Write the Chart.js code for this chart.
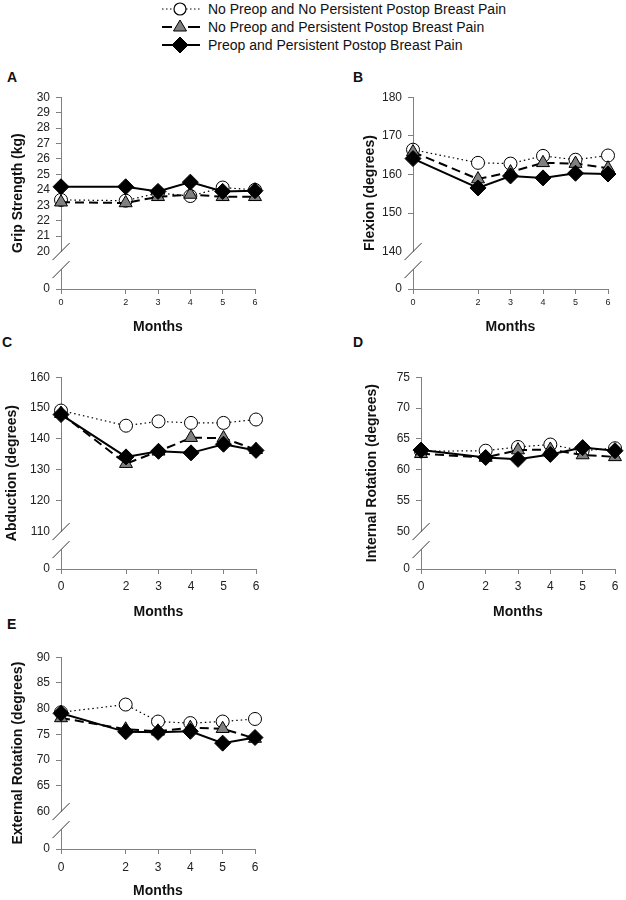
<!DOCTYPE html>
<html><head><meta charset="utf-8">
<script src="https://cdn.jsdelivr.net/npm/chart.js@4.4.0/dist/chart.umd.min.js"></script>
<style>
html,body{margin:0;padding:0;background:#fff;width:626px;height:900px;overflow:hidden;position:relative;font-family:'Liberation Sans',Arial,sans-serif;}
canvas{position:absolute;}
.letter{position:absolute;font-weight:bold;font-size:14px;line-height:14px;color:#111;}
.leg{position:absolute;left:160px;width:400px;height:18px;font-size:14px;line-height:18px;color:#111;white-space:nowrap;}
.leg svg{position:absolute;left:0;top:0;}
.leg span{position:absolute;left:48px;top:0;}
</style></head><body>

<div class="leg" style="top:0px"><svg width="44" height="18"><line x1="2" y1="9" x2="40" y2="9" stroke="#000" stroke-width="1.2" stroke-dasharray="1.5 2.5"/><circle cx="20" cy="9" r="6" fill="#fff" stroke="#000" stroke-width="1.2"/></svg><span>No Preop and No Persistent Postop Breast Pain</span></div>
<div class="leg" style="top:18px"><svg width="44" height="18"><line x1="2" y1="9" x2="12" y2="9" stroke="#000" stroke-width="2"/><line x1="28" y1="9" x2="40" y2="9" stroke="#000" stroke-width="2"/><polygon points="20,2 26.5,13 13.5,13" fill="#808080" stroke="#000" stroke-width="1"/></svg><span>No Preop and Persistent Postop Breast Pain</span></div>
<div class="leg" style="top:36px"><svg width="44" height="18"><line x1="2" y1="9" x2="40" y2="9" stroke="#000" stroke-width="2"/><polygon points="20,1 28,9 20,17 12,9" fill="#000" stroke="#000" stroke-width="1"/></svg><span>Preop and Persistent Postop Breast Pain</span></div>

<div class="letter" style="left:7px;top:70px">A</div>
<div class="letter" style="left:353px;top:70px">B</div>
<div class="letter" style="left:2px;top:335px">C</div>
<div class="letter" style="left:353px;top:335px">D</div>
<div class="letter" style="left:7px;top:617px">E</div>

<canvas id="cA"></canvas>
<canvas id="cB"></canvas>
<canvas id="cC"></canvas>
<canvas id="cD"></canvas>
<canvas id="cE"></canvas>

<script>
// ---- data ----
const months = [0, 2, 3, 4, 5, 6];
const seriesNames = [
  'No Preop and No Persistent Postop Breast Pain',
  'No Preop and Persistent Postop Breast Pain',
  'Preop and Persistent Postop Breast Pain'
];
const panelTitles = ['Grip Strength (kg)', 'Flexion (degrees)', 'Abduction (degrees)', 'Internal Rotation (degrees)', 'External Rotation (degrees)'];
const yLows  = [20, 140, 110, 50, 60];
const yHighs = [30, 180, 160, 75, 90];
const ySteps = [1, 10, 10, 5, 5];

const gripNone      = [23.35, 23.3, 23.8, 23.6, 24.15, 24.0];
const gripNoPreop   = [23.2, 23.15, 23.55, 23.7, 23.55, 23.55];
const gripPreop     = [24.2, 24.2, 23.9, 24.5, 23.9, 23.95];

const flexNone      = [166.4, 163.0, 162.8, 164.8, 163.8, 164.9];
const flexNoPreop   = [165.8, 158.8, 160.6, 163.0, 162.8, 161.6];
const flexPreop     = [164.1, 156.5, 159.6, 159.1, 160.3, 160.1];

const abdNone       = [149.2, 144.3, 145.7, 145.2, 145.2, 146.3];
const abdNoPreop    = [148.2, 132.0, 136.0, 140.4, 140.3, 136.5];
const abdPreop      = [147.9, 134.2, 136.0, 135.5, 138.3, 136.3];

const irNone        = [63.0, 63.1, 63.7, 64.1, 63.1, 63.5];
const irNoPreop     = [62.6, 62.0, 63.2, 63.3, 62.4, 62.1];
const irPreop       = [63.2, 62.0, 61.7, 62.5, 63.6, 63.1];

const erNone        = [79.3, 80.8, 77.5, 77.2, 77.5, 78.0];
const erNoPreop     = [78.2, 76.0, 75.6, 76.3, 76.1, 74.2];
const erPreop       = [79.1, 75.5, 75.4, 75.6, 73.3, 74.4];

const panelData = [
  [gripNone, gripNoPreop, gripPreop],
  [flexNone, flexNoPreop, flexPreop],
  [abdNone, abdNoPreop, abdPreop],
  [irNone, irNoPreop, irPreop],
  [erNone, erNoPreop, erPreop]
];

// ---- layout / style ----
const layouts = [
  {id:'cA', left:10,  top:84,  w:257, h:252, yWidth:51, xHeight:47, padR:12, xFont:9,  xPad:3},
  {id:'cB', left:362, top:84,  w:258, h:252, yWidth:51, xHeight:47, padR:12, xFont:9,  xPad:3},
  {id:'cC', left:4,   top:364, w:264, h:257, yWidth:57, xHeight:52, padR:12, xFont:12, xPad:5},
  {id:'cD', left:364, top:364, w:261, h:257, yWidth:57, xHeight:52, padR:10, xFont:12, xPad:5},
  {id:'cE', left:10,  top:644, w:257, h:256, yWidth:51, xHeight:51, padR:12, xFont:12, xPad:6}
];
const breakFrac = 38 / 157;
const breakGap = 18;
const axisGray = '#808080';
Chart.defaults.font.family = "'Liberation Sans', Arial, sans-serif";

const seriesStyles = [
  {borderWidth:1.2, borderDash:[1.5,3], pointStyle:'circle', pointRadius:6.5, pointBackgroundColor:'#fff', order:3},
  {borderWidth:2, borderDash:[9,5], pointStyle:'triangle', pointRadius:7.5, pointBackgroundColor:'#808080', order:2},
  {borderWidth:2, borderDash:[], pointStyle:'rectRot', pointRadius:8, pointBackgroundColor:'#000', order:1}
];

const breakPlugin = {
  id: 'axisBreak',
  afterDraw(chart, args, opts) {
    const y = chart.scales.y, ctx = chart.ctx;
    const x = chart.chartArea.left;
    const p1 = y.getPixelForValue(opts.low);
    const p2 = p1 + opts.gap;
    ctx.save();
    ctx.fillStyle = '#fff';
    ctx.fillRect(x - 2, p1, 4, opts.gap);
    ctx.strokeStyle = '#333';
    ctx.lineWidth = 1;
    [p1, p2].forEach(py => {
      ctx.beginPath();
      ctx.moveTo(x - 8.5, py + 8.5);
      ctx.lineTo(x + 8.5, py - 8.5);
      ctx.stroke();
    });
    ctx.restore();
  }
};

layouts.forEach((L, pi) => {
  const cv = document.getElementById(L.id);
  cv.width = L.w; cv.height = L.h;
  cv.style.left = L.left + 'px'; cv.style.top = L.top + 'px';
  cv.style.width = L.w + 'px'; cv.style.height = L.h + 'px';
  const low = yLows[pi], high = yHighs[pi], step = ySteps[pi];
  const datasets = panelData[pi].map((vals, si) => Object.assign({
    label: seriesNames[si],
    data: months.map((m, i) => ({x: m, y: vals[i]})),
    borderColor: '#000',
    pointBorderColor: '#000',
    pointBorderWidth: 1,
    pointHoverRadius: 8,
    tension: 0,
    fill: false,
    clip: false
  }, seriesStyles[si]));
  new Chart(cv, {
    type: 'line',
    data: {datasets},
    plugins: [breakPlugin],
    options: {
      responsive: false,
      animation: false,
      events: [],
      devicePixelRatio: 1,
      layout: {padding: {left: 0, top: 10, right: L.padR, bottom: 0}},
      plugins: {
        legend: {display: false},
        tooltip: {enabled: false},
        axisBreak: {low: low, gap: breakGap}
      },
      scales: {
        x: {
          type: 'linear', min: 0, max: 6,
          afterBuildTicks(s) { s.ticks = months.map(v => ({value: v})); },
          afterFit(s) { s.height = L.xHeight; },
          border: {display: true, color: axisGray, width: 1},
          grid: {drawOnChartArea: false, drawTicks: true, tickLength: 5, color: axisGray},
          ticks: {padding: L.xPad, color: '#222', font: {size: L.xFont}, autoSkip: false, maxRotation: 0},
          title: {display: true, text: 'Months', color: '#111', font: {size: 14, weight: 'bold'}, padding: 0}
        },
        y: {
          type: 'linear', min: low - (high - low) * breakFrac, max: high,
          afterBuildTicks(s) {
            const t = [{value: s.min}];
            for (let v = low; v <= high + 1e-9; v += step) t.push({value: v});
            s.ticks = t;
          },
          afterFit(s) { s.width = L.yWidth; },
          border: {display: true, color: axisGray, width: 1},
          grid: {
            drawOnChartArea: false, drawTicks: true, tickLength: 5, color: axisGray,
            tickColor: c => (c.tick && Math.abs(c.tick.value - low) < 1e-9) ? 'rgba(0,0,0,0)' : axisGray
          },
          ticks: {padding: 6, color: '#222', font: {size: 12}, autoSkip: false,
                  callback: (v, i) => i === 0 ? '0' : v},
          title: {display: true, text: panelTitles[pi], color: '#111', font: {size: 14, weight: 'bold'}, padding: 0}
        }
      }
    }
  });
});
</script>
</body></html>
